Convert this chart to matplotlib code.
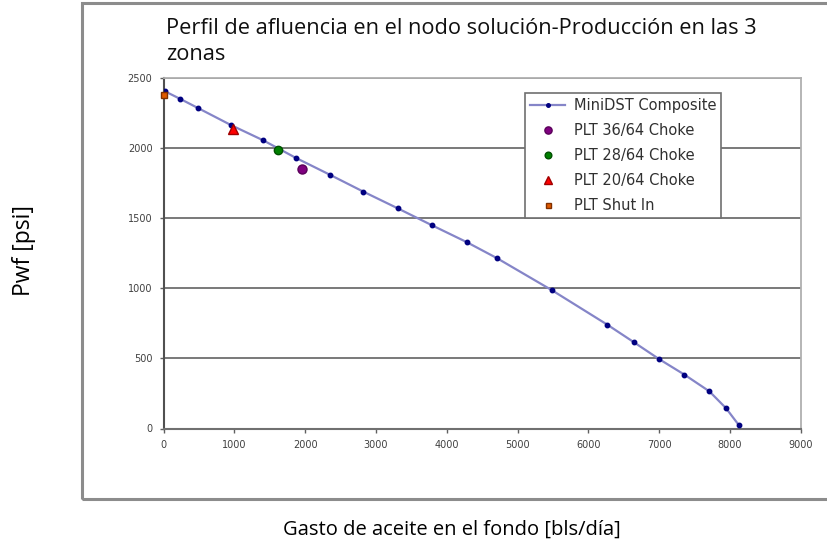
import matplotlib.pyplot as plt
from matplotlib.patches import Rectangle

# Curva de afluencia compuesta (MiniDST) y puntos de prueba PLT
gasto_dst = [20, 240, 490, 950, 1410, 1870, 2350, 2820, 3310, 3790,
             4280, 4710, 5490, 6270, 6645, 7000, 7355, 7710, 7945, 8125]
pwf_dst = [2405, 2350, 2285, 2165, 2055, 1930, 1810, 1690, 1570, 1450,
           1330, 1215, 985, 740, 615, 495, 385, 265, 145, 25]

gasto_36 = [1950]
pwf_36 = [1850]
gasto_28 = [1620]
pwf_28 = [1990]
gasto_20 = [975]
pwf_20 = [2135]
gasto_shut = [0]
pwf_shut = [2380]

x_ticks = [0, 1000, 2000, 3000, 4000, 5000, 6000, 7000, 8000, 9000]
y_ticks = [0, 500, 1000, 1500, 2000, 2500]

fig = plt.figure(figsize=(8.27, 5.52), dpi=100)

# marco del área del gráfico
frame = Rectangle((82 / 827, 1 - 499 / 552), 1.0, 496 / 552,
                  transform=fig.transFigure, fill=False,
                  edgecolor='#8c8c8c', linewidth=2.2, clip_on=False)
fig.patches.append(frame)

ax = fig.add_axes([163.5 / 827, 1 - 428.5 / 552, 637.2 / 827, 350.5 / 552])

ax.plot(gasto_dst, pwf_dst, color='#8585c8', linewidth=1.6, marker='o',
        markersize=3.2, markerfacecolor='#000080', markeredgecolor='#000080',
        label='MiniDST Composite', zorder=3)
ax.plot(gasto_36, pwf_36, linestyle='none', marker='o', markersize=6.5,
        color='#800080', markeredgecolor='#5a005a', label='PLT 36/64 Choke', zorder=4)
ax.plot(gasto_28, pwf_28, linestyle='none', marker='o', markersize=6,
        color='#008000', markeredgecolor='#005000', label='PLT 28/64 Choke', zorder=4)
ax.plot(gasto_20, pwf_20, linestyle='none', marker='^', markersize=7,
        color='#ff0000', markeredgecolor='#a00000', label='PLT 20/64 Choke', zorder=4)
ax.plot(gasto_shut, pwf_shut, linestyle='none', marker='s', markersize=4.5,
        color='#e05a00', markeredgecolor='#803000', label='PLT Shut In', zorder=4,
        clip_on=False)

ax.set_xlim(0, 9000)
ax.set_ylim(0, 2500)
ax.set_xticks(x_ticks)
ax.set_yticks(y_ticks)
ax.tick_params(axis='both', labelsize=7, labelcolor='#404040', color='#606060',
               length=3, width=1, direction='out', pad=5)
for lbl in ax.get_xticklabels() + ax.get_yticklabels():
    lbl.set_family('DejaVu Sans')
ax.yaxis.grid(True, color='#6e6e6e', linewidth=1.3)
ax.set_axisbelow(True)

for side in ['top', 'right']:
    ax.spines[side].set_color('#b0b0b0')
    ax.spines[side].set_linewidth(1.3)
ax.spines['left'].set_color('#505050')
ax.spines['left'].set_linewidth(1.5)
ax.spines['bottom'].set_color('#707070')
ax.spines['bottom'].set_linewidth(1.5)

leg = ax.legend(loc='upper left', bbox_to_anchor=(525 / 827, 1 - 93 / 552),
                bbox_transform=fig.transFigure,
                prop={'family': 'DejaVu Sans', 'size': 10.5}, frameon=True,
                fancybox=False, framealpha=1, edgecolor='#707070',
                borderpad=0.35, labelspacing=0.68, handlelength=2.4,
                handletextpad=0.6, borderaxespad=0, markerscale=0.8)
leg.get_frame().set_linewidth(1.2)
for t in leg.get_texts():
    t.set_color('#303030')

fig.text(166 / 827, 1 - 28 / 552,
         'Perfil de afluencia en el nodo solución-Producción en las 3',
         fontsize=15.7, family='Open Sans', color='#101010', va='center', ha='left')
fig.text(166 / 827, 1 - 55 / 552, 'zonas',
         fontsize=15.7, family='Open Sans', color='#101010', va='center', ha='left')

fig.text(24 / 827, 1 - 250 / 552, 'Pwf [psi]', rotation=90, fontsize=16.5,
         family='Open Sans', va='center', ha='center')
fig.text(452 / 827, 1 - 530 / 552, 'Gasto de aceite en el fondo [bls/día]',
         fontsize=14.5, family='Open Sans', va='center', ha='center')

plt.savefig('out.png', dpi=100)
